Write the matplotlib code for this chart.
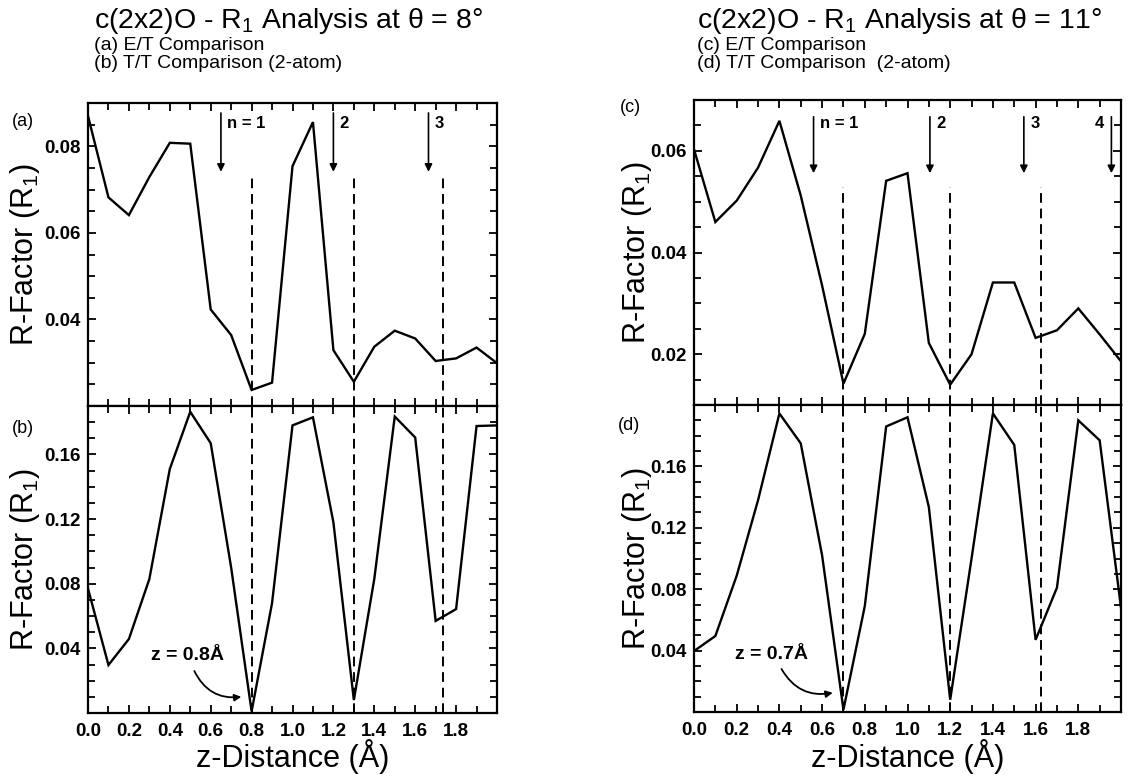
import matplotlib
matplotlib.use("Agg")
import matplotlib.pyplot as plt
import numpy as np

plt.rcParams['font.family'] = ['Liberation Sans', 'DejaVu Sans']
plt.rcParams['mathtext.fontset'] = 'custom'
plt.rcParams['mathtext.rm'] = 'Liberation Sans'

# ---------------- data ----------------
z = [0.0, 0.1, 0.2, 0.3, 0.4, 0.5, 0.6, 0.7, 0.8, 0.9, 1.0,
     1.1, 1.2, 1.3, 1.4, 1.5, 1.6, 1.7, 1.8, 1.9, 2.0]

r_a = [0.087, 0.0682, 0.0641, 0.0729, 0.0808, 0.0806, 0.0423, 0.0364, 0.0237, 0.0254, 0.0754,
       0.0856, 0.0329, 0.0256, 0.0337, 0.0374, 0.0356, 0.0304, 0.0310, 0.0335, 0.0299]
r_b = [0.077, 0.0297, 0.0458, 0.0829, 0.151, 0.1864, 0.167, 0.090, 0.001, 0.068, 0.178,
       0.183, 0.118, 0.008, 0.083, 0.1835, 0.1705, 0.057, 0.0643, 0.1776, 0.178]
r_c = [0.0603, 0.046, 0.0502, 0.0567, 0.0659, 0.0512, 0.0335, 0.0142, 0.024, 0.0541, 0.0556,
       0.0222, 0.014, 0.020, 0.0341, 0.0341, 0.0232, 0.0247, 0.029, 0.0239, 0.0186]
r_d = [0.0397, 0.0495, 0.0888, 0.138, 0.1945, 0.175, 0.102, 0.0015, 0.069, 0.186, 0.192,
       0.1335, 0.008, 0.100, 0.1945, 0.174, 0.047, 0.081, 0.190, 0.177, 0.068]

dash_left = [0.8, 1.3, 1.735]
dash_right = [0.7, 1.2, 1.625]
dash_top_left = 0.0731
dash_top_right = 0.0529

arrows_left = [0.65, 1.2, 1.665]
arrow_labels_left = ["n = 1", "2", "3"]
arrows_right = [0.56, 1.105, 1.545, 1.955]
arrow_labels_right = ["n = 1", "2", "3", "4"]

xtick_major = [0.0, 0.2, 0.4, 0.6, 0.8, 1.0, 1.2, 1.4, 1.6, 1.8]
xtick_labels = ["0.0", "0.2", "0.4", "0.6", "0.8", "1.0", "1.2", "1.4", "1.6", "1.8"]
xtick_minor = [0.1, 0.3, 0.5, 0.7, 0.9, 1.1, 1.3, 1.5, 1.7, 1.9]

W, H = 1131, 776
fig = plt.figure(figsize=(W / 100, H / 100), dpi=100)


def px_axes(x0, x1, y0, y1):
    return fig.add_axes([x0 / W, 1 - y1 / H, (x1 - x0) / W, (y1 - y0) / H])


LX0, LX1 = 88, 497
RX0, RX1 = 694, 1121
ax_a = px_axes(LX0, LX1, 103, 406)
ax_b = px_axes(LX0, LX1, 406, 713)
ax_c = px_axes(RX0, RX1, 100, 405)
ax_d = px_axes(RX0, RX1, 405, 712)

TICK_FS = 13.5


def style(ax, ylim, ymaj, ylabs, ymin, bottom_labels):
    ax.set_xlim(0, 2.0)
    ax.set_ylim(*ylim)
    for s in ax.spines.values():
        s.set_linewidth(1.6)
    ax.set_xticks(xtick_major)
    ax.set_xticks(xtick_minor, minor=True)
    ax.set_yticks(ymaj)
    ax.set_yticks(ymin, minor=True)
    ax.tick_params(which='both', direction='in', top=True, right=True,
                   width=1.3, labelsize=TICK_FS)
    ax.tick_params(axis='y', which='both', pad=5)
    ax.tick_params(which='major', length=6)
    ax.tick_params(which='minor', length=5)
    ax.set_yticklabels(ylabs, fontweight='bold')
    if bottom_labels:
        ax.set_xticklabels(xtick_labels, fontweight='bold')
        ax.tick_params(axis='x', which='both', pad=7)
    else:
        ax.set_xticklabels([])


style(ax_a, (0.02, 0.09), [0.04, 0.06, 0.08], ["0.04", "0.06", "0.08"],
      [0.025, 0.03, 0.035, 0.045, 0.05, 0.055, 0.065, 0.07, 0.075, 0.085], False)
style(ax_b, (0.0, 0.19), [0.04, 0.08, 0.12, 0.16], ["0.04", "0.08", "0.12", "0.16"],
      [0.01, 0.02, 0.03, 0.05, 0.06, 0.07, 0.09, 0.10, 0.11, 0.13, 0.14, 0.15, 0.17, 0.18], True)
style(ax_c, (0.01, 0.07), [0.02, 0.04, 0.06], ["0.02", "0.04", "0.06"],
      [0.015, 0.025, 0.03, 0.035, 0.045, 0.05, 0.055, 0.065], False)
style(ax_d, (0.0, 0.2), [0.04, 0.08, 0.12, 0.16], ["0.04", "0.08", "0.12", "0.16"],
      [0.01, 0.02, 0.03, 0.05, 0.06, 0.07, 0.09, 0.10, 0.11, 0.13, 0.14, 0.15, 0.17, 0.18, 0.19], True)

lw = 1.7
for ax, r in [(ax_a, r_a), (ax_b, r_b), (ax_c, r_c), (ax_d, r_d)]:
    ax.plot(z, r, color='black', lw=lw, solid_joinstyle='miter', clip_on=True)

dash_kw = dict(color='black', lw=1.4, linestyle=(0, (5, 3)))
for x in dash_left:
    ax_a.plot([x, x], [0.02, dash_top_left], **dash_kw)
    ax_b.axvline(x, **dash_kw)
for x in dash_right:
    ax_c.plot([x, x], [0.01, dash_top_right], **dash_kw)
    ax_d.axvline(x, **dash_kw)

arrow_kw = dict(arrowstyle='-|>', color='black', lw=1.2, mutation_scale=11,
                shrinkA=0, shrinkB=0)
for x, lab in zip(arrows_left, arrow_labels_left):
    ax_a.annotate('', xy=(x, 0.0741), xytext=(x, 0.0877), arrowprops=arrow_kw)
    ax_a.text(x + 0.03, 0.0852, lab, fontsize=12, fontweight='bold', ha='left', va='center')
for x, lab in zip(arrows_right, arrow_labels_right):
    ax_c.annotate('', xy=(x, 0.0556), xytext=(x, 0.0667), arrowprops=arrow_kw)
    if lab == "4":
        ax_c.text(x - 0.035, 0.0654, lab, fontsize=12, fontweight='bold', ha='right', va='center')
    else:
        ax_c.text(x + 0.03, 0.0654, lab, fontsize=12, fontweight='bold', ha='left', va='center')

# z annotations
ax_b.text(0.31, 0.0355, "z = 0.8Å", fontsize=14, fontweight='bold', ha='left', va='center')
ax_b.annotate('', xy=(0.75, 0.010), xytext=(0.52, 0.026),
              arrowprops=dict(arrowstyle='-|>', color='black', lw=1.3, mutation_scale=10,
                              connectionstyle='arc3,rad=0.35', shrinkA=0, shrinkB=0))
ax_d.text(0.19, 0.0374, "z = 0.7Å", fontsize=14, fontweight='bold', ha='left', va='center')
ax_d.annotate('', xy=(0.65, 0.0125), xytext=(0.41, 0.028),
              arrowprops=dict(arrowstyle='-|>', color='black', lw=1.3, mutation_scale=10,
                              connectionstyle='arc3,rad=0.35', shrinkA=0, shrinkB=0))

# panel letters
for txt, xp, yp in [("(a)", 12, 122), ("(b)", 12, 428), ("(c)", 620, 108), ("(d)", 618, 425)]:
    fig.text(xp / W, 1 - yp / H, txt, fontsize=13, ha='left', va='center')

# y labels
ylab = "R-Factor (R$_\\mathregular{1}$)"
for xp, yc in [(25, (103 + 406) / 2), (25, (406 + 713) / 2),
               (637, (100 + 405) / 2), (637, (405 + 712) / 2)]:
    fig.text(xp / W, 1 - yc / H, ylab, rotation=90, fontsize=22, ha='center', va='center')

# x labels
fig.text(((LX0 + LX1) / 2) / W, 1 - 757 / H, "z-Distance (Å)", fontsize=22, ha='center', va='center')
fig.text(((RX0 + RX1) / 2) / W, 1 - 757 / H, "z-Distance (Å)", fontsize=22, ha='center', va='center')

# titles
fig.text(94 / W, 1 - 21 / H, "c(2x2)O - R$_\\mathregular{1}$ Analysis at θ = 8°", fontsize=20.5,
         ha='left', va='center')
fig.text(94 / W, 1 - 46 / H, "(a) E/T Comparison", fontsize=14, ha='left', va='center')
fig.text(94 / W, 1 - 64 / H, "(b) T/T Comparison (2-atom)", fontsize=14, ha='left', va='center')
fig.text(697 / W, 1 - 21 / H, "c(2x2)O - R$_\\mathregular{1}$ Analysis at θ = 11°", fontsize=20.5,
         ha='left', va='center')
fig.text(697 / W, 1 - 46 / H, "(c) E/T Comparison", fontsize=14, ha='left', va='center')
fig.text(697 / W, 1 - 64 / H, "(d) T/T Comparison  (2-atom)", fontsize=14, ha='left', va='center')

fig.savefig("out.png", dpi=100)
